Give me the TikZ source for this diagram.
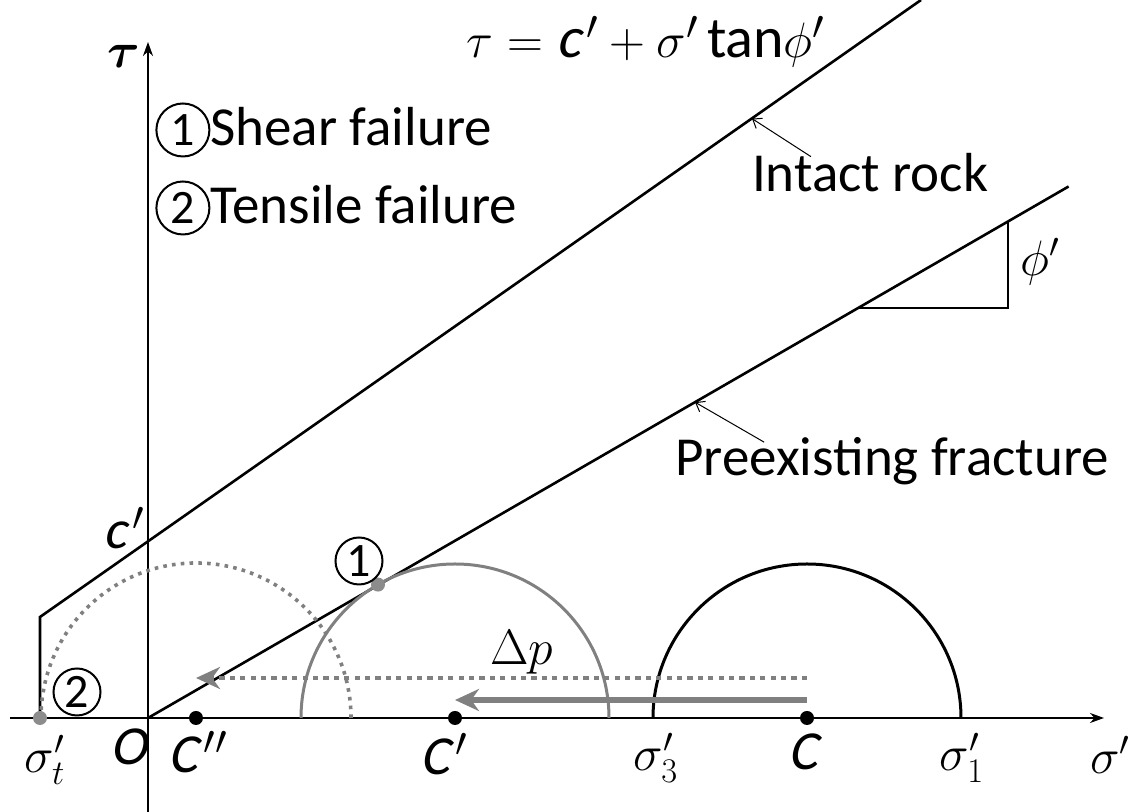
\documentclass[tikz,border=0pt]{standalone}
\usepackage{amsmath}
\usepackage{fontspec}
\setmainfont{Carlito}
\newfontfamily\slantsans{Carlito}[FakeSlant=0.2]
\usetikzlibrary{arrows.meta,positioning}

\definecolor{MohrGray}{RGB}{128,128,128}
\definecolor{DotGray}{RGB}{140,140,140}

\tikzset{
  axis/.style={line width=1pt, -{Stealth[length=7pt,width=5pt]}},
  envelope/.style={line width=1.3pt},
  mohr/.style={line width=1.5pt},
  pointer/.style={line width=0.5pt, -{Straight Barb[length=4pt,width=6pt]}},
  dot/.style={circle, fill, inner sep=0pt, minimum size=7pt},
  lbl/.style={font=\fontsize{27.5}{32}\selectfont},
  ilbl/.style={font=\fontsize{27.5}{32}\selectfont\slantsans},
  mlbl/.style={font=\fontsize{25}{30}\selectfont, inner sep=1pt},
  circnum/.style={draw, circle, line width=1pt, inner sep=0pt, minimum size=23.5pt,
    font=\fontsize{24}{26}\selectfont},
}
\newcommand{\legnum}[1]{\tikz[baseline=(n.base)]\node[circnum, minimum size=26.5pt] (n) {#1};}

\begin{document}
\begin{tikzpicture}[x=50pt,y=50pt]
\useasboundingbox (-1.48,-0.94) rectangle (9.87,7.18);

% Axes
\draw[axis] (0,-0.94) -- (0,6.76);
\draw[axis] (-1.38,0) -- (9.56,0);
\node[mlbl, font=\fontsize{28}{32}\selectfont] (tau) at (-0.24,6.62) {$\boldsymbol{\tau}$};
\node[mlbl] (sig) at (9.62,-0.37) {$\sigma'$};
\node[ilbl] (O) at (-0.19,-0.29) {O};

% Failure envelopes
\draw[envelope] (-1.08,0) -- (-1.08,1.01) -- (7.73,7.18);
\draw[envelope] (0,0) -- (30:10.63);
\draw[line width=0.6pt] (7.10,4.10) -- (8.60,4.10) -- (8.60,4.965);
\node[mlbl] (phi) at (8.92,4.56) {$\phi'$};
\node[ilbl] (cp) at (-0.24,1.90) {c\kern3pt$'$};
\node[mlbl, font=\fontsize{29}{34}\selectfont] (eq) at (4.98,6.76) {$\tau = \mbox{\slantsans c}\kern2.5pt' + \sigma'\,\mbox{tan}\phi'$};

% Mohr circles
\draw[mohr] (8.13,0) arc (0:180:1.54);
\draw[mohr, MohrGray] (4.61,0) arc (0:180:1.54);
\draw[MohrGray, line width=1.8pt, dash pattern=on 1.8pt off 2.6pt] (2.03,0) arc (0:180:1.55);

% Centres and failure points
\node[dot] (C) at (6.59,0) {};
\node[dot] (Cp) at (3.07,0) {};
\node[dot] (Cpp) at (0.48,0) {};
\node[dot, DotGray] (st) at (-1.08,0) {};
\node[dot, DotGray] (shear) at (2.30,1.334) {};
\node[circnum] (one) at (2.11,1.57) {1};
\node[circnum] (two) at (-0.71,0.26) {2};

% Axis labels
\node[ilbl] (Clbl) at (6.55,-0.34) {C};
\node[ilbl] (Cplbl) at (2.96,-0.36) {C\kern3pt$'$};
\node[ilbl] (Cpplbl) at (0.50,-0.34) {C\kern3pt$''$};
\node[mlbl] (s3) at (5.08,-0.40) {$\sigma_3'$};
\node[mlbl] (s1) at (8.14,-0.40) {$\sigma_1'$};
\node[mlbl] (stlbl) at (-1.03,-0.42) {$\sigma_t'$};

% Pore pressure increase
\draw[MohrGray, line width=2.8pt, -{Stealth[length=12pt,width=11pt]}] ([yshift=9pt]C.center) -- ([yshift=9pt]Cp.center);
\draw[MohrGray, line width=2.4pt, dash pattern=on 2.6pt off 2.6pt, -{Stealth[length=12pt,width=11pt]}] ([yshift=20pt]C.center) -- ([yshift=20pt]Cpp.center);
\node[mlbl] (dp) at (3.74,0.66) {$\Delta p$};

% Envelope names
\node[lbl] (ir) at (7.22,5.45) {Intact rock};
\node[lbl] (pf) at (7.44,2.57) {Preexisting fracture};
\coordinate (irtip) at (6.04,5.994);
\coordinate (pftip) at (5.47,3.158);
\draw[pointer] ([xshift=33pt,yshift=-5pt]ir.north west) -- (irtip);
\draw[pointer] ([xshift=48pt,yshift=-6pt]pf.north west) -- (pftip);

% Legend
\node[lbl, anchor=west, inner sep=0pt] (leg1) at (0.07,5.88) {\legnum{1}Shear failure};
\node[lbl, anchor=west, inner sep=0pt] (leg2) at (0.07,5.10) {\legnum{2}Tensile failure};

\end{tikzpicture}
\end{document}
